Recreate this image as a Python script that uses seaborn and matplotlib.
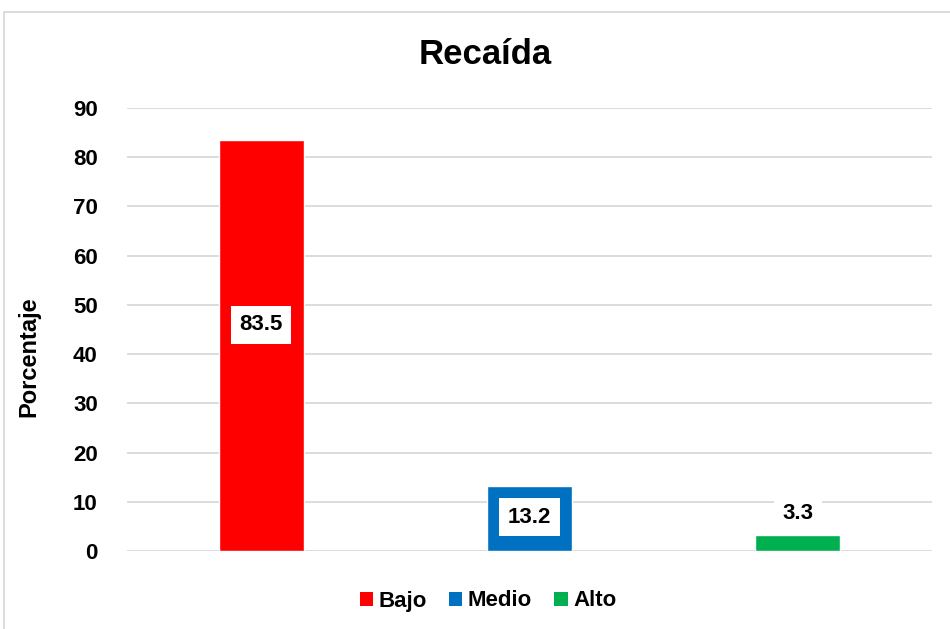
import matplotlib
matplotlib.use("Agg")
import matplotlib.pyplot as plt
from matplotlib.patches import Patch, Rectangle
import seaborn as sns
import pandas as pd

# dane z wykresu
kategorie = ["Bajo", "Medio", "Alto"]
procenty = [83.5, 13.2, 3.3]
kolory = ["#FF0000", "#0070C0", "#00B050"]
etykiety = ["83.5", "13.2", "3.3"]
# wysokosc etykiet (w jednostkach osi y)
poz_etykiet = [46.0, 6.9, 7.7]

sns.set_style("white")
plt.rcParams["font.family"] = ["Liberation Sans", "DejaVu Sans"]
plt.rcParams["text.color"] = "black"
plt.rcParams["axes.labelcolor"] = "black"
plt.rcParams["ytick.color"] = "black"

df = pd.DataFrame({"Nivel": kategorie, "Porcentaje": procenty})

fig = plt.figure(figsize=(9.5, 6.29), dpi=100)
ax = fig.add_axes([127 / 950, 1 - 551 / 629, 805 / 950, 443 / 629])

sns.barplot(data=df, x="Nivel", y="Porcentaje", hue="Nivel", palette=kolory,
            width=0.317, saturation=1, legend=False, ax=ax, zorder=3)

ax.set_ylim(0, 90)
ax.set_xlim(-0.5, 2.5)
ax.set_yticks(range(0, 91, 10))
ax.yaxis.grid(True, color="#D9D9D9", linewidth=1.3, zorder=0)
ax.set_axisbelow(True)
for s in ax.spines.values():
    s.set_visible(False)
ax.tick_params(axis="y", length=0, pad=21, labelsize=16)
ax.tick_params(axis="x", length=0, labelbottom=False)
for t in ax.get_yticklabels():
    t.set_fontweight("bold")
ax.set_xlabel("")
ax.set_ylabel("Porcentaje", fontsize=17, fontweight="bold")
ax.yaxis.set_label_coords(-0.108, 0.438)

for i, (txt, y) in enumerate(zip(etykiety, poz_etykiet)):
    ax.text(i, y, txt, ha="center", va="center", fontsize=16, fontweight="bold",
            zorder=5, bbox=dict(facecolor="white", edgecolor="none", pad=6))

fig.text(485 / 950, 1 - 55 / 629, "Recaída", ha="center", va="center",
         fontsize=25, fontweight="bold")

uchwyty = [Patch(facecolor=k, edgecolor="none", label=n) for k, n in zip(kolory, kategorie)]
fig.legend(handles=uchwyty, loc="center", bbox_to_anchor=(488 / 950, 1 - 601 / 629),
           ncol=3, frameon=False, handlelength=0.6, handleheight=0.6,
           handletextpad=0.25, columnspacing=1.0,
           prop={"size": 16, "weight": "bold"})

fig.patches.append(Rectangle((4 / 950, -0.1), 1.1, 1.1 - 12 / 629,
                             transform=fig.transFigure, fill=False,
                             edgecolor="#D9D9D9", linewidth=1.3))

fig.savefig("out.png", dpi=100)
